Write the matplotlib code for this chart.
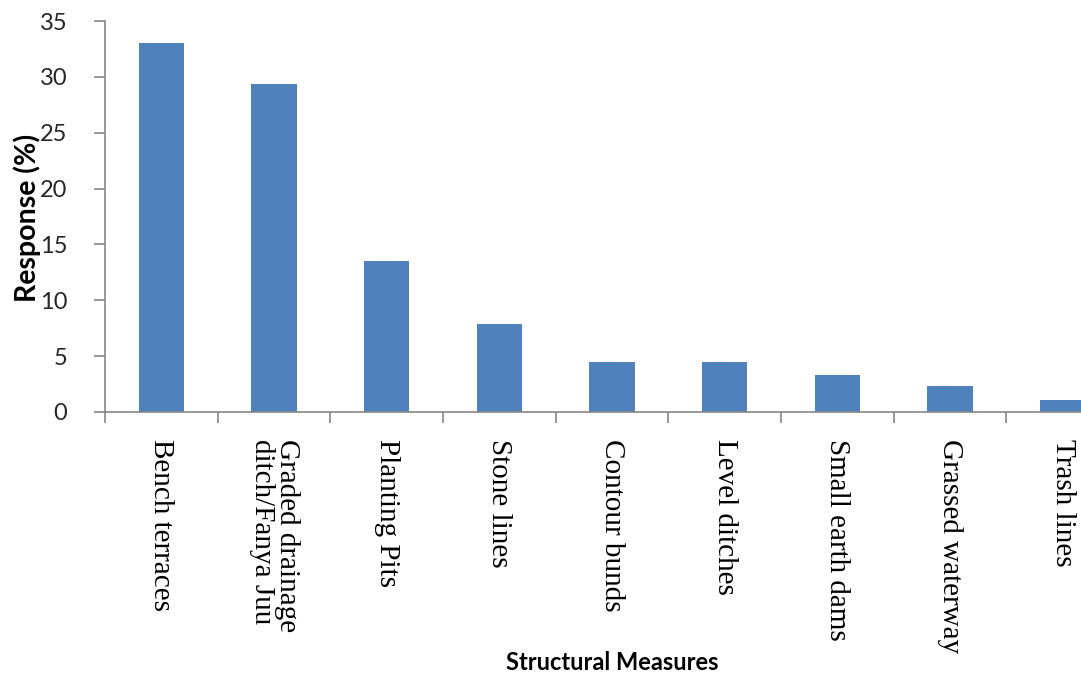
import matplotlib
matplotlib.use("Agg")
import matplotlib.pyplot as plt

measures = ["Bench terraces", "Graded drainage\nditch/Fanya Juu", "Planting Pits",
            "Stone lines", "Contour bunds", "Level ditches", "Small earth dams",
            "Grassed waterway", "Trash lines"]
response = [33.0, 29.4, 13.5, 7.9, 4.5, 4.5, 3.3, 2.3, 1.1]
yticks = [0, 5, 10, 15, 20, 25, 30, 35]

bar_color = "#4F81BD"
axis_color = "#868686"

fig = plt.figure(figsize=(10.81, 6.76), dpi=100)
# axes runs a little past the right edge, so the last bar is clipped
ax = fig.add_axes([105 / 1081, 264 / 676, 1014 / 1081, 391 / 676])

x = list(range(len(measures)))
ax.bar(x, response, width=0.4, color=bar_color, zorder=2)

ax.set_xlim(-0.5, len(measures) - 0.5)
ax.set_ylim(0, 35)
ax.set_yticks(yticks)
ax.set_yticklabels([str(v) for v in yticks], fontsize=17, family="Lato", color="#262626")

# category boundaries carry the tick marks, names sit at the bar centres
ax.set_xticks([i - 0.5 for i in range(len(measures) + 1)])
ax.set_xticklabels([])
ax.tick_params(axis="x", length=8, width=1.2, color=axis_color, direction="out")
ax.tick_params(axis="y", length=8, width=1.2, color=axis_color, direction="out", pad=19)
for i, name in enumerate(measures):
    ax.annotate(name, xy=(i, 0), xycoords=("data", "axes fraction"),
                xytext=(0, -27), textcoords="offset pixels",
                rotation=-90, ha="center", va="top", multialignment="left",
                fontsize=21, family="Liberation Serif", color="black",
                linespacing=0.95, annotation_clip=False)

for side in ("top", "right"):
    ax.spines[side].set_visible(False)
for side in ("left", "bottom"):
    ax.spines[side].set_color(axis_color)
    ax.spines[side].set_linewidth(1.2)

fig.text(27 / 1081, 1 - 218 / 676, "Response (%)", rotation=90, ha="center", va="center",
         fontsize=20.5, fontweight="bold", family="Lato")
fig.text(612 / 1081, 1 - 662 / 676, "Structural Measures", ha="center", va="center",
         fontsize=17, fontweight="bold", family="Lato")

fig.savefig("out.png", dpi=100, facecolor="white")
